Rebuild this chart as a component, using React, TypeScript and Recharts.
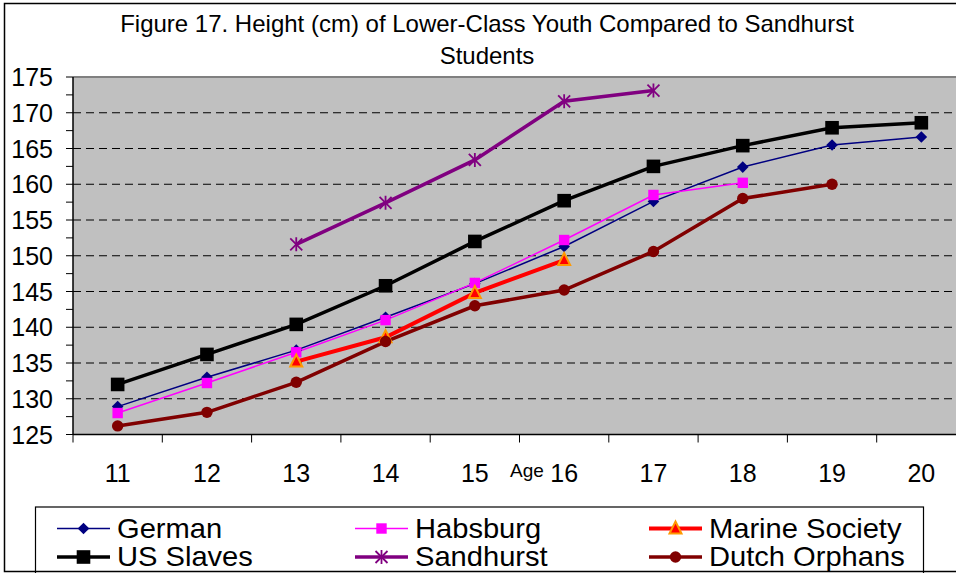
import React from 'react';
import { LineChart, Line, XAxis, YAxis, CartesianGrid, ReferenceLine } from 'recharts';

const FONT = '"Liberation Sans", Arial, Helvetica, sans-serif';

// ---- data ----
const ages = [11, 12, 13, 14, 15, 16, 17, 18, 19, 20];
const german = [128.9, 133.0, 136.8, 141.4, 146.1, 151.3, 157.6, 162.4, 165.5, 166.6];
const habsburg = [128.0, 132.2, 136.5, 141.0, 146.2, 152.2, 158.5, 160.2, null, null];
const marineSociety = [null, null, 135.2, 138.6, 144.8, 149.4, null, null, null, null];
const usSlaves = [132.0, 136.2, 140.4, 145.8, 152.0, 157.7, 162.5, 165.4, 167.9, 168.6];
const sandhurst = [null, null, 151.6, 157.4, 163.4, 171.6, 173.1, null, null, null];
const dutchOrphans = [126.2, 128.1, 132.3, 138.0, 143.0, 145.2, 150.6, 158.0, 160.0, null];

const yTicks = [125, 127.5, 130, 132.5, 135, 137.5, 140, 142.5, 145, 147.5, 150, 152.5, 155, 157.5, 160, 162.5, 165, 167.5, 170, 172.5, 175];
const yLabelValues = [125, 130, 135, 140, 145, 150, 155, 160, 165, 170, 175];
const gridValues = [130, 135, 140, 145, 150, 155, 160, 165, 170];
const xTicks = [10.5, 11, 11.5, 12, 12.5, 13, 13.5, 14, 14.5, 15, 15.5, 16, 16.5, 17, 17.5, 18, 18.5, 19, 19.5, 20, 20.5];

const titleLines = ['Figure 17. Height (cm) of Lower-Class Youth Compared to Sandhurst', 'Students'];
const xAxisTitle = 'Age';

const data = ages.map((age, i) => ({
  age,
  german: german[i],
  habsburg: habsburg[i],
  marine: marineSociety[i],
  usSlaves: usSlaves[i],
  sandhurst: sandhurst[i],
  dutch: dutchOrphans[i],
}));

type Kind = 'diamond' | 'square' | 'triangle' | 'bigsquare' | 'star' | 'circle';

const series: { key: string; name: string; color: string; width: number; kind: Kind }[] = [
  { key: 'german', name: 'German', color: '#000080', width: 1.5, kind: 'diamond' },
  { key: 'habsburg', name: 'Habsburg', color: '#FF00FF', width: 1.5, kind: 'square' },
  { key: 'marine', name: 'Marine Society', color: '#FF0000', width: 4, kind: 'triangle' },
  { key: 'usSlaves', name: 'US Slaves', color: '#000000', width: 3.5, kind: 'bigsquare' },
  { key: 'sandhurst', name: 'Sandhurst', color: '#800080', width: 3.5, kind: 'star' },
  { key: 'dutch', name: 'Dutch Orphans', color: '#800000', width: 3.5, kind: 'circle' },
];

function Marker({ kind, cx, cy, color }: { kind: Kind; cx: number; cy: number; color: string }) {
  switch (kind) {
    case 'diamond': {
      const h = 5.8;
      return <polygon points={`${cx},${cy - h} ${cx + h},${cy} ${cx},${cy + h} ${cx - h},${cy}`} fill={color} />;
    }
    case 'square':
      return <rect x={cx - 5.2} y={cy - 5.2} width={10.4} height={10.4} fill={color} />;
    case 'bigsquare':
      return <rect x={cx - 6.8} y={cy - 6.8} width={13.6} height={13.6} fill={color} />;
    case 'triangle':
      return (
        <polygon
          points={`${cx},${cy - 7} ${cx + 6},${cy + 5} ${cx - 6},${cy + 5}`}
          fill={color}
          stroke="#FF9900"
          strokeWidth={2}
          strokeLinejoin="miter"
        />
      );
    case 'star': {
      const h = 6;
      return (
        <g stroke={color} strokeWidth={1.8}>
          <line x1={cx - h} y1={cy - h} x2={cx + h} y2={cy + h} />
          <line x1={cx - h} y1={cy + h} x2={cx + h} y2={cy - h} />
          <line x1={cx} y1={cy - h - 1} x2={cx} y2={cy + h + 1} />
        </g>
      );
    }
    case 'circle':
    default:
      return <circle cx={cx} cy={cy} r={5.7} fill={color} />;
  }
}

const makeDot = (kind: Kind, color: string) => (props: any) => {
  const { cx, cy, index, value } = props;
  const key = `${kind}-${index}`;
  if (cx == null || cy == null || value == null || isNaN(cy)) return <g key={key} />;
  return (
    <g key={key}>
      <Marker kind={kind} cx={cx} cy={cy} color={color} />
    </g>
  );
};

const XTick = (props: any) => {
  const { x, y, payload } = props;
  const v = payload.value as number;
  if (Math.abs(v - Math.round(v)) > 0.01) {
    return <line x1={x} y1={y} x2={x} y2={y + 8} stroke="#000" strokeWidth={1} />;
  }
  return (
    <text x={x} y={y + 47.5} textAnchor="middle" fontFamily={FONT} fontSize={25} fill="#000">
      {v}
    </text>
  );
};

const YTick = (props: any) => {
  const { x, y, payload } = props;
  const v = payload.value as number;
  const showLabel = yLabelValues.includes(v);
  return (
    <g>
      <line x1={x - 7} y1={y} x2={x} y2={y} stroke="#000" strokeWidth={1} />
      {showLabel && (
        <text x={x - 20} y={y + 9} textAnchor="end" fontFamily={FONT} fontSize={25} fill="#000">
          {v}
        </text>
      )}
    </g>
  );
};

const legendCols = [57, 355, 649];
const legendRows = [528.5, 557];

export default function App() {
  return (
    <div
      style={{
        position: 'absolute',
        left: 0,
        top: 0,
        width: 956,
        height: 573,
        overflow: 'hidden',
        background: '#fff',
      }}
    >
      <div style={{ position: 'absolute', left: 0, top: 0 }}>
        <LineChart
          width={1010}
          height={573}
          data={data}
          margin={{ top: 77, right: 44, left: 0, bottom: 98.5 }}
        >
          <CartesianGrid
            vertical={false}
            horizontalValues={gridValues}
            stroke="#000"
            strokeDasharray="8 5"
            fill="#C0C0C0"
            fillOpacity={1}
          />
          <ReferenceLine y={175} stroke="#808080" strokeWidth={2} ifOverflow="extendDomain" />
          <XAxis
            dataKey="age"
            type="number"
            domain={[10.5, 20.5]}
            ticks={xTicks}
            interval={0}
            tickLine={false}
            tickSize={0}
            tickMargin={0}
            tick={<XTick />}
            axisLine={{ stroke: '#000', strokeWidth: 1.5 }}
            height={40}
            allowDataOverflow
          />
          <YAxis
            type="number"
            domain={[125, 175]}
            ticks={yTicks}
            interval={0}
            tickLine={false}
            tickSize={0}
            tickMargin={0}
            tick={<YTick />}
            axisLine={{ stroke: '#000', strokeWidth: 1.5 }}
            width={73}
            allowDataOverflow
          />
          {series.map((s) => (
            <Line
              key={s.key}
              type="linear"
              dataKey={s.key}
              name={s.name}
              stroke={s.color}
              strokeWidth={s.width}
              dot={makeDot(s.kind, s.color)}
              activeDot={false}
              isAnimationActive={false}
              connectNulls={false}
            />
          ))}
        </LineChart>
      </div>
      <svg
        width={956}
        height={573}
        style={{ position: 'absolute', left: 0, top: 0, pointerEvents: 'none' }}
      >
        {titleLines.map((t, i) => (
          <text
            key={t}
            x={487}
            y={32 + i * 32}
            textAnchor="middle"
            fontFamily={FONT}
            fontSize={24}
            fill="#000"
          >
            {t}
          </text>
        ))}
        <text x={527} y={477} textAnchor="middle" fontFamily={FONT} fontSize={19} fill="#000">
          {xAxisTitle}
        </text>
        <rect x={35.5} y={507} width={888} height={80} fill="#fff" stroke="#000" strokeWidth={1.2} />
        {series.map((s, i) => {
          const col = i % 3;
          const row = Math.floor(i / 3);
          const x0 = legendCols[col];
          const y0 = legendRows[row];
          return (
            <g key={s.key}>
              <line x1={x0} y1={y0} x2={x0 + 53} y2={y0} stroke={s.color} strokeWidth={s.width} />
              <Marker kind={s.kind} cx={x0 + 26.5} cy={y0} color={s.color} />
              <g transform={`translate(${x0 + 60}, ${y0 + 9}) scale(1.04, 1)`}>
                <text x={0} y={0} fontFamily={FONT} fontSize={28} fill="#000">
                  {s.name}
                </text>
              </g>
            </g>
          );
        })}
        <rect x={4.5} y={3.5} width={1000} height={568} fill="none" stroke="#000" strokeWidth={1.5} />
      </svg>
    </div>
  );
}
